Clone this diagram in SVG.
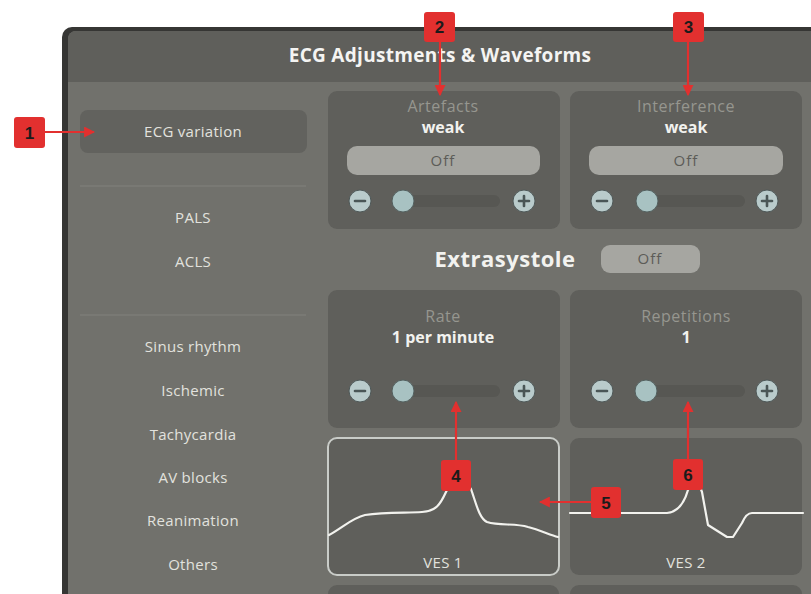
<svg xmlns="http://www.w3.org/2000/svg" width="811" height="594" viewBox="0 0 811 594">
  <defs>
    <style>
      .ui { font-family: "Open Sans", "Liberation Sans", sans-serif; }
      .title { font-size: 19px; font-weight: 700; fill: #f4f4f2; letter-spacing: 0.3px; }
      .menu { font-size: 15px; fill: #e2e2de; letter-spacing: 0.3px; }
      .lbl { font-size: 16px; fill: #96968f; letter-spacing: 0.5px; }
      .val { font-size: 16px; font-weight: 700; fill: #f2f2ef; }
      .pill { fill: #a6a6a1; }
      .pilltxt { font-size: 15px; fill: #5c5c58; letter-spacing: 1px; }
      .panel { fill: #5f5f5b; }
      .btn { fill: #b9cbcb; stroke: #4e5858; stroke-width: 1; }
      .glyph { stroke: #4a5656; stroke-width: 2.6; stroke-linecap: round; }
      .knob { fill: #a8c2c2; stroke: #53605f; stroke-width: 1; }
      .track { fill: #575753; }
      .wave { fill: none; stroke: #f2f2ee; stroke-width: 2.2; stroke-linejoin: round; stroke-linecap: round; }
      .sep { stroke: #82827d; stroke-width: 1; }
      .tag { fill: #e2302f; }
      .tagtxt { font-family: "Liberation Sans", Arial, sans-serif; font-size: 17px; font-weight: 700; fill: #1b1b1b; }
      .lead { stroke: #e2302f; stroke-width: 2.2; fill: none; }
    </style>
    <marker id="tip" viewBox="0 0 10 10" refX="9" refY="5" markerWidth="5" markerHeight="5" orient="auto">
      <path d="M0,0 L10,5 L0,10 z" fill="#e2302f"/>
    </marker>
  </defs>

  <rect width="811" height="594" fill="#ffffff"/>

  <!-- device frame -->
  <g id="frame">
    <rect x="62" y="27" width="760" height="580" rx="10" fill="#363634"/>
    <rect x="68" y="31" width="750" height="572" rx="8" fill="#71716c"/>
    <path d="M68,82 V39 a8,8 0 0 1 8,-8 H818 V82 z" fill="#5f5f5b"/>
    <text class="ui title" x="440" y="62" text-anchor="middle">ECG Adjustments &amp; Waveforms</text>
  </g>

  <!-- left menu -->
  <g id="menu" class="ui">
    <rect x="80" y="110" width="227" height="43" rx="8" fill="#62625e"/>
    <text class="menu" x="193" y="137" text-anchor="middle">ECG variation</text>
    <line class="sep" x1="80" y1="186" x2="306" y2="186"/>
    <text class="menu" x="193" y="223" text-anchor="middle">PALS</text>
    <text class="menu" x="193" y="267" text-anchor="middle">ACLS</text>
    <line class="sep" x1="80" y1="315" x2="306" y2="315"/>
    <text class="menu" x="193" y="352" text-anchor="middle">Sinus rhythm</text>
    <text class="menu" x="193" y="396" text-anchor="middle">Ischemic</text>
    <text class="menu" x="193" y="440" text-anchor="middle">Tachycardia</text>
    <text class="menu" x="193" y="483" text-anchor="middle">AV blocks</text>
    <text class="menu" x="193" y="526" text-anchor="middle">Reanimation</text>
    <text class="menu" x="193" y="570" text-anchor="middle">Others</text>
  </g>

  <!-- Artefacts panel -->
  <g id="artefacts" class="ui">
    <rect class="panel" x="328" y="91" width="232" height="138" rx="9"/>
    <text class="lbl" x="443" y="112" text-anchor="middle">Artefacts</text>
    <text class="val" x="443" y="133" text-anchor="middle">weak</text>
    <rect class="pill" x="347" y="146" width="193" height="29" rx="10"/>
    <text class="pilltxt" x="443" y="166" text-anchor="middle">Off</text>
    <rect class="track" x="405" y="195" width="95" height="12" rx="6"/>
    <circle class="btn" cx="360" cy="201" r="11"/>
    <line class="glyph" x1="355" y1="201" x2="365" y2="201"/>
    <circle class="knob" cx="403" cy="201" r="11"/>
    <circle class="btn" cx="524" cy="201" r="11"/>
    <line class="glyph" x1="519" y1="201" x2="529" y2="201"/>
    <line class="glyph" x1="524" y1="196" x2="524" y2="206"/>
  </g>

  <!-- Interference panel -->
  <g id="interference" class="ui">
    <rect class="panel" x="570" y="91" width="232" height="138" rx="9"/>
    <text class="lbl" x="686" y="112" text-anchor="middle">Interference</text>
    <text class="val" x="686" y="133" text-anchor="middle">weak</text>
    <rect class="pill" x="589" y="146" width="194" height="29" rx="10"/>
    <text class="pilltxt" x="686" y="166" text-anchor="middle">Off</text>
    <rect class="track" x="648" y="195" width="97" height="12" rx="6"/>
    <circle class="btn" cx="602" cy="201" r="11"/>
    <line class="glyph" x1="597" y1="201" x2="607" y2="201"/>
    <circle class="knob" cx="647" cy="201" r="11"/>
    <circle class="btn" cx="767" cy="201" r="11"/>
    <line class="glyph" x1="762" y1="201" x2="772" y2="201"/>
    <line class="glyph" x1="767" y1="196" x2="767" y2="206"/>
  </g>

  <!-- Extrasystole switch -->
  <g id="extrasystole" class="ui">
    <text x="505" y="267" text-anchor="middle" font-size="22" font-weight="700" letter-spacing="0.5" fill="#f2f2ef">Extrasystole</text>
    <rect class="pill" x="601" y="245" width="99" height="28" rx="9"/>
    <text class="pilltxt" x="650" y="264" text-anchor="middle">Off</text>
  </g>

  <!-- Rate panel -->
  <g id="rate" class="ui">
    <rect class="panel" x="328" y="290" width="232" height="138" rx="9"/>
    <text class="lbl" x="443" y="322" text-anchor="middle">Rate</text>
    <text class="val" x="443" y="343" text-anchor="middle">1 per minute</text>
    <rect class="track" x="405" y="385" width="95" height="12" rx="6"/>
    <circle class="btn" cx="360" cy="391" r="11"/>
    <line class="glyph" x1="355" y1="391" x2="365" y2="391"/>
    <circle class="knob" cx="403" cy="391" r="11"/>
    <circle class="btn" cx="524" cy="391" r="11"/>
    <line class="glyph" x1="519" y1="391" x2="529" y2="391"/>
    <line class="glyph" x1="524" y1="386" x2="524" y2="396"/>
  </g>

  <!-- Repetitions panel -->
  <g id="repetitions" class="ui">
    <rect class="panel" x="570" y="290" width="232" height="138" rx="9"/>
    <text class="lbl" x="686" y="322" text-anchor="middle">Repetitions</text>
    <text class="val" x="686" y="343" text-anchor="middle">1</text>
    <rect class="track" x="648" y="385" width="97" height="12" rx="6"/>
    <circle class="btn" cx="602" cy="391" r="11"/>
    <line class="glyph" x1="597" y1="391" x2="607" y2="391"/>
    <circle class="knob" cx="646" cy="391" r="11"/>
    <circle class="btn" cx="767" cy="391" r="11"/>
    <line class="glyph" x1="762" y1="391" x2="772" y2="391"/>
    <line class="glyph" x1="767" y1="386" x2="767" y2="396"/>
  </g>

  <!-- waveform tiles -->
  <g id="ves1" class="ui">
    <rect class="panel" x="328" y="438" width="231" height="137" rx="9" stroke="#c9ccc8" stroke-width="2"/>
    <path class="wave" d="M329,535 C342,528 352,518 365,515 C385,512 405,513 422,512 C436,511 440,505 446,492 L457,472 L471,489 C476,503 479,518 487,522 C500,526 515,523 528,527 C540,530 550,535 558,537"/>
    <text class="menu" x="443" y="568" text-anchor="middle" fill="#d2d2ce" letter-spacing="1">VES 1</text>
  </g>
  <g id="ves2" class="ui">
    <rect class="panel" x="570" y="438" width="232" height="137" rx="9"/>
    <path class="wave" d="M570,513 H667 C678,512 684,504 688,490 L695,474 L702,492 L708,525 L727,537 H733 L742,523 C745,516 748,513 752,513 H803"/>
    <text class="menu" x="686" y="568" text-anchor="middle" fill="#d2d2ce" letter-spacing="1">VES 2</text>
  </g>
  <g id="lower-tiles">
    <rect class="panel" x="328" y="585" width="231" height="20" rx="9"/>
    <rect class="panel" x="570" y="585" width="232" height="20" rx="9"/>
  </g>

  <!-- numbered callouts -->
  <g id="connectors">
    <line class="lead" x1="44" y1="132" x2="94" y2="132" marker-end="url(#tip)"/>
    <line class="lead" x1="440" y1="42" x2="440" y2="95" marker-end="url(#tip)"/>
    <line class="lead" x1="688" y1="42" x2="688" y2="95" marker-end="url(#tip)"/>
    <line class="lead" x1="456" y1="461" x2="456" y2="402" marker-end="url(#tip)"/>
    <line class="lead" x1="592" y1="502" x2="540" y2="502" marker-end="url(#tip)"/>
    <line class="lead" x1="688" y1="459" x2="688" y2="402" marker-end="url(#tip)"/>
  </g>
  <g id="tag1"><rect class="tag" x="14" y="117" width="31" height="31" rx="3"/><text class="tagtxt" x="29.5" y="139" text-anchor="middle">1</text></g>
  <g id="tag2"><rect class="tag" x="424" y="12" width="31" height="30" rx="3"/><text class="tagtxt" x="439.5" y="33" text-anchor="middle">2</text></g>
  <g id="tag3"><rect class="tag" x="673" y="12" width="31" height="30" rx="3"/><text class="tagtxt" x="688.5" y="33" text-anchor="middle">3</text></g>
  <g id="tag4"><rect class="tag" x="441" y="460" width="30" height="31" rx="3"/><text class="tagtxt" x="456" y="482" text-anchor="middle">4</text></g>
  <g id="tag5"><rect class="tag" x="591" y="487" width="30" height="31" rx="3"/><text class="tagtxt" x="606" y="509" text-anchor="middle">5</text></g>
  <g id="tag6"><rect class="tag" x="673" y="459" width="30" height="31" rx="3"/><text class="tagtxt" x="688" y="481" text-anchor="middle">6</text></g>
</svg>
